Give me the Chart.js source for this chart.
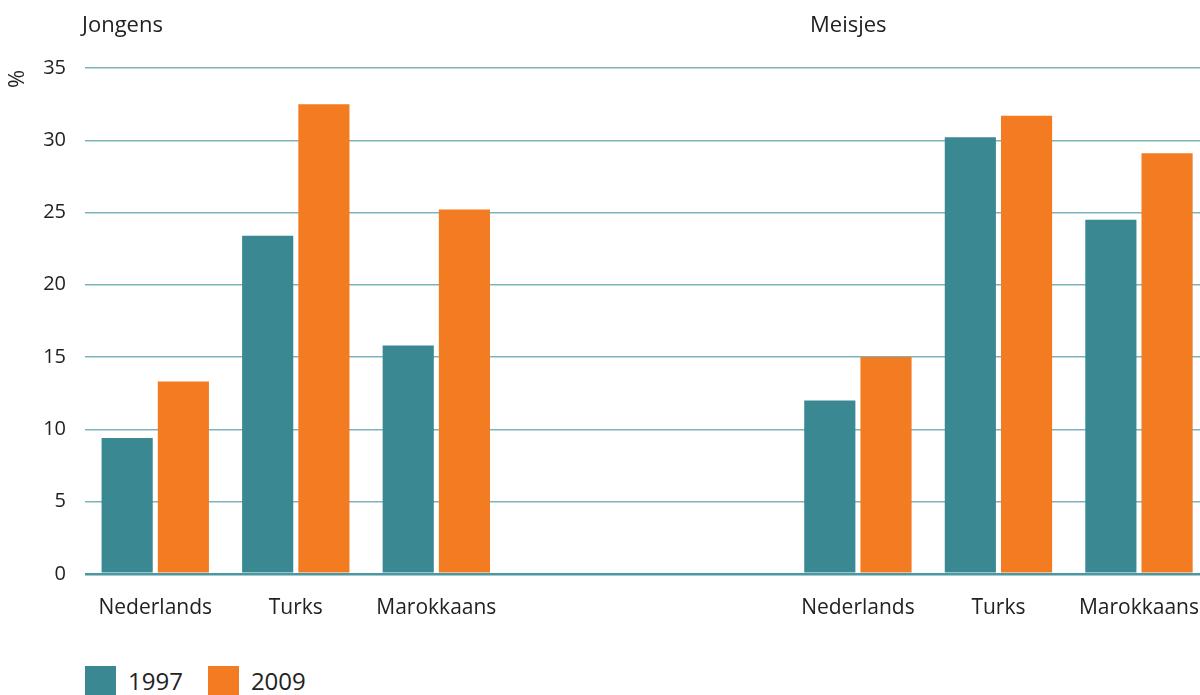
<!DOCTYPE html>
<html>
<head>
<meta charset="utf-8">
<script src="https://cdn.jsdelivr.net/npm/chart.js@4"></script>
<style>
  html, body { margin: 0; padding: 0; background: #fff; overflow: hidden; }
  body { width: 1200px; height: 695px; position: relative; font-family: "Open Sans", sans-serif; color: #222; }
  #wrap { position: absolute; left: 0; top: 0; width: 1213px; height: 635px; }
  .group-title { position: absolute; top: 8px; font-size: 22px; }
  #unit { position: absolute; left: 6px; top: 64px; font-size: 22px; transform: rotate(-90deg); transform-origin: center; }
  #legend { position: absolute; left: 85px; top: 666px; height: 29px; display: flex; align-items: center; font-size: 24px; }
  #legend .item { display: flex; align-items: center; margin-right: 25px; }
  #legend .box { width: 31px; height: 29px; margin-right: 12px; }
</style>
</head>
<body>
<div id="wrap"><canvas id="chart"></canvas></div>
<div class="group-title" style="left:82px">Jongens</div>
<div class="group-title" style="left:810px">Meisjes</div>
<div id="unit">%</div>
<div id="legend"></div>
<script>
// Categories: three for boys, two empty slots, three for girls
const categories = ['Nederlands', 'Turks', 'Marokkaans', '', '', 'Nederlands', 'Turks', 'Marokkaans'];
const years = ['1997', '2009'];
const values1997 = [9.4, 23.4, 15.8, null, null, 12.0, 30.2, 24.5];
const values2009 = [13.3, 32.5, 25.2, null, null, 15.0, 31.7, 29.1];
const yTicks = [0, 5, 10, 15, 20, 25, 30, 35];
const colors = ['#3a8892', '#f37b21'];

const datasets = [values1997, values2009].map((vals, i) => ({
    label: years[i],
    data: vals,
    backgroundColor: colors[i],
    borderWidth: 0,
    categoryPercentage: 0.8,
    barPercentage: 0.91
}));

// HTML legend
const legendEl = document.getElementById('legend');
years.forEach((y, i) => {
    const item = document.createElement('div');
    item.className = 'item';
    item.innerHTML = `<span class="box" style="background:${colors[i]}"></span><span>${y}</span>`;
    legendEl.appendChild(item);
});

const ctx = document.getElementById('chart').getContext('2d');
new Chart(ctx, {
    type: 'bar',
    data: { labels: categories, datasets: datasets },
    options: {
        responsive: true,
        maintainAspectRatio: false,
        animation: false,
        layout: { padding: { top: 68, left: 0, right: 0, bottom: 0 } },
        plugins: {
            legend: { display: false },
            tooltip: { enabled: false }
        },
        scales: {
            x: {
                grid: { display: false },
                border: { display: false },
                ticks: {
                    color: '#222',
                    font: { family: 'Open Sans', size: 21 },
                    padding: 14,
                    maxRotation: 0,
                    autoSkip: false
                }
            },
            y: {
                min: 0,
                max: 35,
                afterBuildTicks: scale => { scale.ticks = yTicks.map(v => ({ value: v })); },
                afterFit: scale => { scale.width = 85; },
                border: { display: false },
                grid: {
                    drawTicks: false,
                    color: c => c.index === 0 ? '#4a98a2' : '#7db4bb',
                    lineWidth: c => c.index === 0 ? 2.5 : 1.5
                },
                ticks: {
                    color: '#222',
                    font: { family: 'Open Sans', size: 20 },
                    padding: 19
                }
            }
        }
    }
});
</script>
</body>
</html>
